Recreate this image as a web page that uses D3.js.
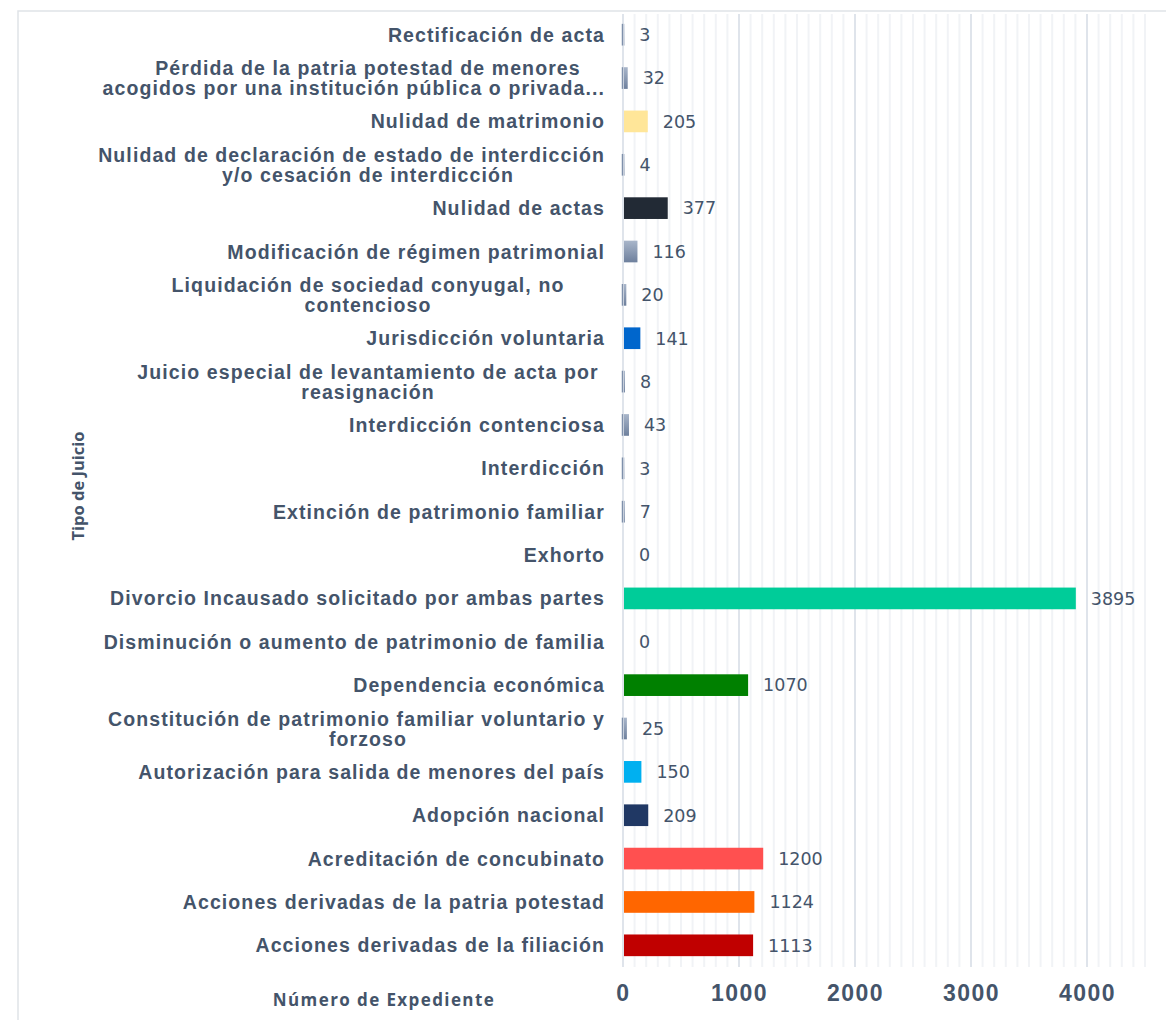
<!DOCTYPE html>
<html>
<head>
<meta charset="utf-8">
<script src="https://cdn.jsdelivr.net/npm/d3@7"></script>
<style>
  body { margin: 0; background: #fff; }
</style>
</head>
<body>
<div id="chart"></div>
<script>
// data
let categories = [
    'Rectificación de acta',
    'Pérdida de la patria potestad de menores\nacogidos por una institución pública o privada...',
    'Nulidad de matrimonio',
    'Nulidad de declaración de estado de interdicción\ny/o cesación de interdicción',
    'Nulidad de actas',
    'Modificación de régimen patrimonial',
    'Liquidación de sociedad conyugal, no\ncontencioso',
    'Jurisdicción voluntaria',
    'Juicio especial de levantamiento de acta por\nreasignación',
    'Interdicción contenciosa',
    'Interdicción',
    'Extinción de patrimonio familiar',
    'Exhorto',
    'Divorcio Incausado solicitado por ambas partes',
    'Disminución o aumento de patrimonio de familia',
    'Dependencia económica',
    'Constitución de patrimonio familiar voluntario y\nforzoso',
    'Autorización para salida de menores del país',
    'Adopción nacional',
    'Acreditación de concubinato',
    'Acciones derivadas de la patria potestad',
    'Acciones derivadas de la filiación'
];
let values = [3, 32, 205, 4, 377, 116, 20, 141, 8, 43, 3, 7, 0, 3895, 0, 1070, 25, 150, 209, 1200, 1124, 1113];
let barColors = ['grad', 'grad', '#ffe699', 'grad', '#222a35', 'grad', 'grad', '#0066cc', 'grad', 'grad', 'grad', 'grad',
    'grad', '#00cc99', 'grad', '#008000', 'grad', '#00b0f0', '#203864', '#ff5050', '#ff6600', '#c00000'];
let xTicks = [0, 1000, 2000, 3000, 4000];
let xMax = 4500;

let svgWidth = 1166;
let svgHeight = 1020;
let textColor = '#44546a';
let labelFont = "'Liberation Sans', Arial, Helvetica, sans-serif";

let svg = d3.select('#chart').append('svg')
    .attr('width', svgWidth)
    .attr('height', svgHeight);

// frame
svg.append('rect')
    .attr('x', 18).attr('y', 11)
    .attr('width', 1170).attr('height', 1030)
    .attr('fill', 'none')
    .attr('stroke', '#dfe3e8')
    .attr('stroke-width', 1.5);

let defs = svg.append('defs');
let grad = defs.append('linearGradient')
    .attr('id', 'grayGrad')
    .attr('x1', 0).attr('y1', 0).attr('x2', 0).attr('y2', 1);
grad.append('stop').attr('offset', '0%').attr('stop-color', '#a9b6ca');
grad.append('stop').attr('offset', '100%').attr('stop-color', '#6e809d');

let xScale = d3.scaleLinear()
    .domain([0, xMax])
    .range([623, 1145]);

let yScale = d3.scaleBand()
    .domain(categories)
    .range([13, 967])
    .paddingInner(0.5)
    .paddingOuter(0.25);

// gridlines
let minor = d3.range(100, xMax + 1, 100).filter(d => d % 1000 !== 0);
svg.append('g').selectAll('line')
    .data(minor)
    .enter().append('line')
    .attr('x1', d => xScale(d)).attr('x2', d => xScale(d))
    .attr('y1', 14).attr('y2', 967)
    .attr('stroke', '#f1f3f6')
    .attr('stroke-width', 2);

svg.append('g').selectAll('line')
    .data(xTicks)
    .enter().append('line')
    .attr('x1', d => xScale(d)).attr('x2', d => xScale(d))
    .attr('y1', 14).attr('y2', 967)
    .attr('stroke', '#dfe4eb')
    .attr('stroke-width', 2);

// bars
svg.append('g').selectAll('rect')
    .data(values)
    .enter().append('rect')
    .attr('x', xScale(0) + 1)
    .attr('y', (d, i) => yScale(categories[i]))
    .attr('width', d => Math.max(0, xScale(d) - xScale(0)))
    .attr('height', yScale.bandwidth())
    .attr('fill', (d, i) => barColors[i] === 'grad' ? 'url(#grayGrad)' : barColors[i]);

// thin edge at the base of the small bars
values.forEach((v, i) => {
    if (v > 0 && v < 60) {
        svg.append('line')
            .attr('x1', xScale(0) - 0.5).attr('x2', xScale(0) - 0.5)
            .attr('y1', yScale(categories[i]))
            .attr('y2', yScale(categories[i]) + yScale.bandwidth())
            .attr('stroke', '#7f90ab')
            .attr('stroke-width', 1.5);
    }
});

// value labels
svg.append('g').selectAll('text')
    .data(values)
    .enter().append('text')
    .attr('x', d => xScale(d) + 16)
    .attr('y', (d, i) => yScale(categories[i]) + yScale.bandwidth() / 2)
    .attr('dy', '0.36em')
    .attr('font-family', "'DejaVu Sans', Verdana, sans-serif")
    .attr('font-size', 17.5)
    .attr('fill', textColor)
    .text(d => d);

// category labels
let labelGroup = svg.append('g')
    .attr('font-family', labelFont)
    .attr('font-weight', 'bold')
    .attr('font-size', 19.5)
    .attr('letter-spacing', 1.1)
    .attr('fill', textColor);

categories.forEach(c => {
    let lines = c.split('\n');
    let cy = yScale(c) + yScale.bandwidth() / 2;
    lines.forEach((ln, j) => {
        let t = labelGroup.append('text')
            .attr('y', cy + (j - (lines.length - 1) / 2) * 20)
            .attr('dy', '0.36em')
            .text(ln);
        if (lines.length === 1) {
            t.attr('x', 605).attr('text-anchor', 'end');
        } else {
            let w = t.node().getComputedTextLength();
            let cx = Math.min(368, 605 - w / 2);
            t.attr('x', cx).attr('text-anchor', 'middle');
        }
    });
});

// x axis tick labels
let xAxis = svg.append('g')
    .attr('transform', 'translate(0, 993)')
    .call(d3.axisBottom(xScale).tickValues(xTicks).tickFormat(d3.format('d')).tickSize(0).tickPadding(0));
xAxis.select('.domain').remove();
xAxis.selectAll('text')
    .attr('font-family', labelFont)
    .attr('font-weight', 'bold')
    .attr('font-size', 23)
    .attr('letter-spacing', 1.5)
    .attr('fill', textColor)
    .attr('dy', '0.36em')
    .attr('y', 0);

// axis titles
svg.append('text')
    .attr('transform', 'translate(78, 486) rotate(-90)')
    .attr('text-anchor', 'middle')
    .attr('dy', '0.36em')
    .attr('font-family', "'Open Sans', sans-serif")
    .attr('font-weight', 700)
    .attr('font-size', 16.5)
    .attr('fill', textColor)
    .text('Tipo de Juicio');

svg.append('text')
    .attr('x', 384)
    .attr('y', 1000)
    .attr('text-anchor', 'middle')
    .attr('dy', '0.36em')
    .attr('font-family', "'Open Sans', sans-serif")
    .attr('font-weight', 700)
    .attr('font-size', 17)
    .attr('letter-spacing', 1.4)
    .attr('fill', textColor)
    .text('Número de Expediente');
</script>
</body>
</html>
